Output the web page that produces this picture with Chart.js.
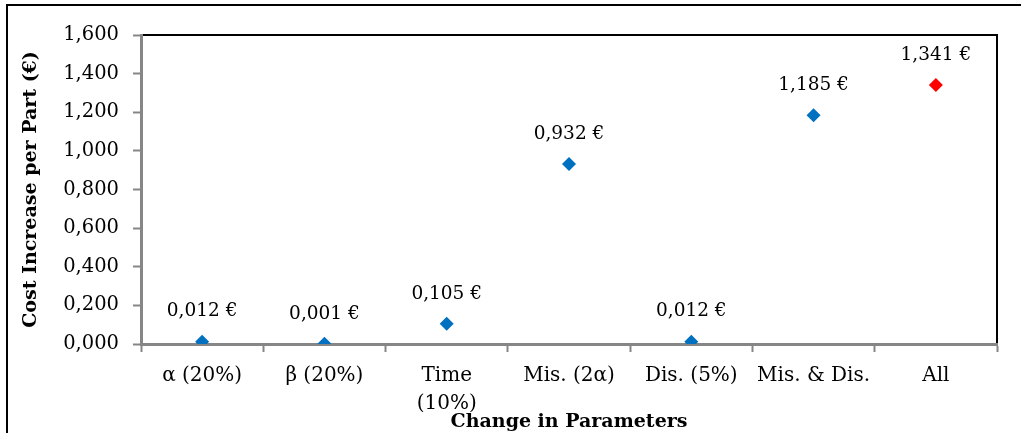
<!DOCTYPE html>
<html>
<head>
<meta charset="utf-8">
<script src="https://cdn.jsdelivr.net/npm/chart.js@4.4.1/dist/chart.umd.min.js"></script>
<style>
  html, body { margin: 0; padding: 0; background: #fff; }
  canvas { display: block; }
</style>
</head>
<body>
<canvas id="myChart" width="1021" height="433"></canvas>
<script>
const categories = ['α (20%)', 'β (20%)', ['Time', '(10%)'], 'Mis. (2α)', 'Dis. (5%)', 'Mis. & Dis.', 'All'];
const costIncrease = [0.012, 0.001, 0.105, 0.932, 0.012, 1.185, 1.341];
const pointColors = ['#0070C0', '#0070C0', '#0070C0', '#0070C0', '#0070C0', '#0070C0', '#FF0000'];
const yTicks = [0, 0.2, 0.4, 0.6, 0.8, 1.0, 1.2, 1.4, 1.6];

const FONT = 'DejaVu Serif';
const fmt = v => v.toFixed(3).replace('.', ',');

// value labels above each diamond + plot frame + outer frame
const decorations = {
  id: 'decorations',
  beforeDraw(chart) {
    const c = chart.ctx;
    c.save();
    c.fillStyle = '#fff';
    c.fillRect(0, 0, chart.width, chart.height);
    c.strokeStyle = '#000';
    c.lineWidth = 2;
    c.beginPath();
    c.moveTo(7, chart.height);
    c.lineTo(7, 5);
    c.lineTo(chart.width, 5);
    c.stroke();
    const a = chart.chartArea;
    c.beginPath();
    c.moveTo(a.left, a.top);
    c.lineTo(a.right, a.top);
    c.lineTo(a.right, a.bottom);
    c.stroke();
    c.restore();
  },
  afterDatasetsDraw(chart) {
    const c = chart.ctx;
    const meta = chart.getDatasetMeta(0);
    c.save();
    c.font = '18.5px "' + FONT + '"';
    c.fillStyle = '#000';
    c.textAlign = 'center';
    c.textBaseline = 'middle';
    meta.data.forEach((pt, i) => {
      c.fillText(fmt(costIncrease[i]) + ' €', pt.x, pt.y - 30);
    });
    c.restore();
  }
};

new Chart(document.getElementById('myChart'), {
  type: 'line',
  data: {
    labels: categories,
    datasets: [{
      data: costIncrease,
      showLine: false,
      pointStyle: 'rectRot',
      pointRadius: 7,
      pointHoverRadius: 7,
      pointBackgroundColor: pointColors,
      pointBorderColor: pointColors,
      pointBorderWidth: 0
    }]
  },
  options: {
    responsive: false,
    animation: false,
    layout: { padding: { top: 35, right: 24, left: 0, bottom: 0 } },
    plugins: {
      legend: { display: false },
      tooltip: { enabled: false }
    },
    scales: {
      x: {
        offset: true,
        grid: {
          display: true,
          offset: true,
          drawOnChartArea: false,
          drawTicks: true,
          tickLength: 8,
          tickWidth: 2,
          tickColor: '#868686'
        },
        border: { display: true, color: '#868686', width: 3 },
        ticks: {
          color: '#000',
          font: { family: FONT, size: 20, lineHeight: 1.4 },
          padding: 10,
          maxRotation: 0,
          autoSkip: false
        },
        title: {
          display: true,
          text: 'Change in Parameters',
          color: '#000',
          font: { family: FONT, size: 19, weight: 'bold', lineHeight: 1.2 },
          padding: { top: 2, bottom: 0 }
        },
        afterFit(scale) { scale.height = 433 - 344; }
      },
      y: {
        min: 0,
        max: 1.6,
        afterBuildTicks(scale) { scale.ticks = yTicks.map(v => ({ value: v })); },
        grid: {
          display: true,
          drawOnChartArea: false,
          tickLength: 8,
          tickWidth: 2,
          tickColor: '#868686'
        },
        border: { display: true, color: '#868686', width: 3 },
        ticks: {
          color: '#000',
          font: { family: FONT, size: 19.5 },
          padding: 14,
          callback: v => fmt(v)
        },
        title: {
          display: true,
          text: 'Cost Increase per Part (€)',
          color: '#000',
          font: { family: FONT, size: 19, weight: 'bold', lineHeight: 1.2 },
          padding: { top: 20, bottom: 0 }
        },
        afterFit(scale) { scale.width = 141; }
      }
    }
  },
  plugins: [decorations]
});
</script>
</body>
</html>
